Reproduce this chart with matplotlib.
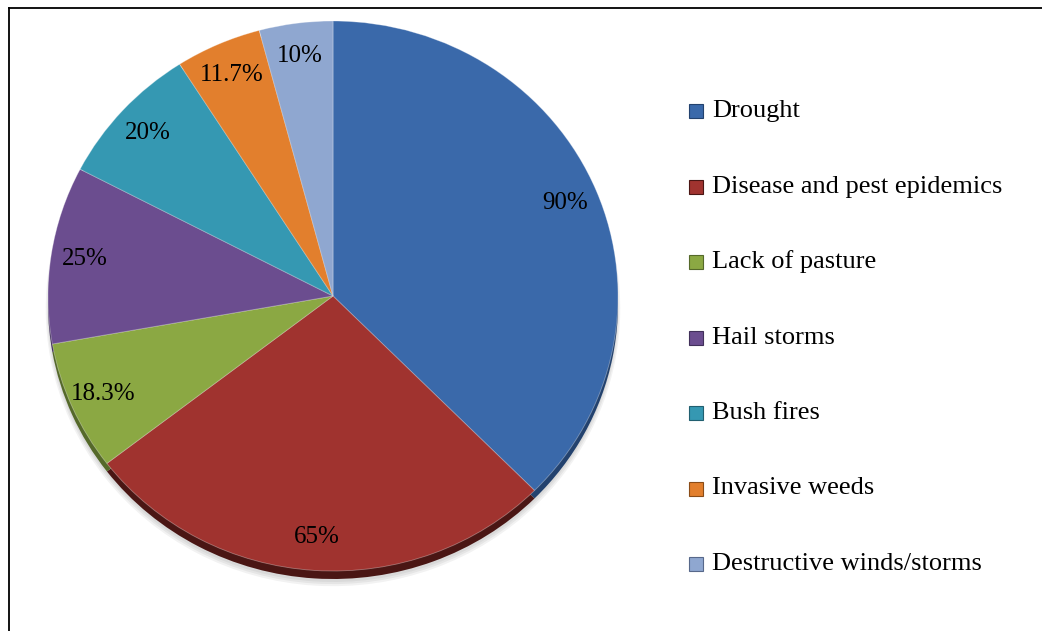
import matplotlib
matplotlib.use("Agg")
import matplotlib.pyplot as plt
from matplotlib.patches import Rectangle
from matplotlib.lines import Line2D

categories = ["Drought", "Disease and pest epidemics", "Lack of pasture",
              "Hail storms", "Bush fires", "Invasive weeds",
              "Destructive winds/storms"]
values = [90, 65, 18.3, 25, 20, 11.7, 10]
value_labels = ["90%", "65%", "18.3%", "25%", "20%", "11.7%", "10%"]
colors = ["#3A69AA", "#A0332F", "#8BA843", "#6B4D8F", "#3598B2",
          "#E27F2D", "#8FA7D0"]
dark_colors = ["#23426E", "#4A1614", "#55692A", "#41305A", "#215F70",
               "#8A4C18", "#57688A"]

W, H = 1042, 631
fig = plt.figure(figsize=(W / 100, H / 100), dpi=100)
fig.patch.set_facecolor("white")
ax = fig.add_axes([0, 0, 1, 1])
ax.axis("off")

font = ["Liberation Serif", "DejaVu Serif"]
cx_px, cy_px = 333, 296          # pie centre (pixels from top-left)
rx_px, ry_px = 285, 275          # horizontal / vertical radius in pixels

def set_lims():
    ax.set_xlim(-cx_px / rx_px, (W - cx_px) / rx_px)
    ax.set_ylim(-(H - cy_px) / ry_px, cy_px / ry_px)
    ax.set_aspect("auto")

bevel = 8 / ry_px
# soft shadow
for i in range(3):
    ax.pie(values, radius=1.0 + 0.004 * i, center=(0, -bevel - (3 + i) / ry_px),
           startangle=90, counterclock=False,
           colors=["#000000"] * len(values),
           wedgeprops=dict(alpha=0.05, linewidth=0))
# 3D bevel edge
ax.pie(values, radius=1.0, center=(0, -bevel), startangle=90,
       counterclock=False, colors=dark_colors, wedgeprops=dict(linewidth=0))
wedges, texts = ax.pie(values, radius=1.0, center=(0, 0), startangle=90,
                       counterclock=False, colors=colors,
                       labels=value_labels, labeldistance=0.88,
                       wedgeprops=dict(linewidth=0.6, edgecolor=(1, 1, 1, 0.35)),
                       textprops=dict(fontsize=18, family=font, color="black"))
for t in texts:
    t.set_ha("center")
    t.set_va("center")
set_lims()

# legend (figure pixel coordinates)
y0, dy = 111, 75.5
for i, (lab, col, dcol) in enumerate(zip(categories, colors, dark_colors)):
    y = H - (y0 + i * dy)
    fig.add_artist(Rectangle(((689) / W, (y - 7) / H), 14 / W, 14 / H,
                             facecolor=col, edgecolor=dcol, linewidth=0.8,
                             transform=fig.transFigure))
    fig.text(712 / W, y / H, lab, fontsize=19, family=font, va="center",
             ha="left", color="black")

# frame (top and left lines)
fig.add_artist(Line2D([9 / W, 1], [1 - 8 / H, 1 - 8 / H], color="black",
                      linewidth=1.3, transform=fig.transFigure))
fig.add_artist(Line2D([9 / W, 9 / W], [0, 1 - 8 / H], color="black",
                      linewidth=1.3, transform=fig.transFigure))

fig.savefig("out.png", dpi=100, facecolor="white")
